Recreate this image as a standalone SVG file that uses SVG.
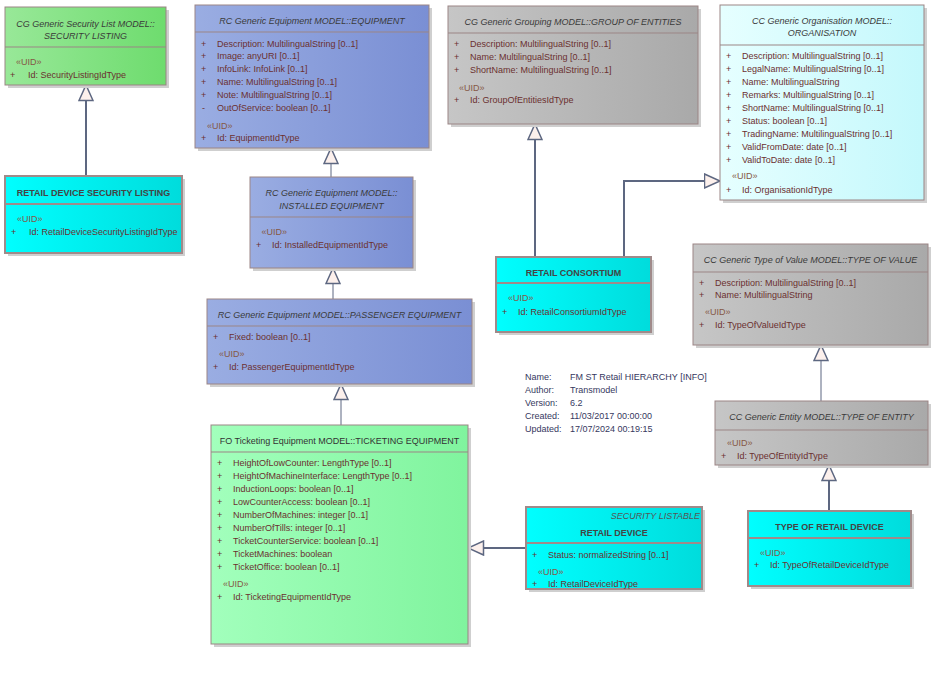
<svg xmlns="http://www.w3.org/2000/svg" width="939" height="673" viewBox="0 0 939 673">
<defs>
<linearGradient id="gGreen" x1="0" y1="0" x2="1" y2="0"><stop offset="0" stop-color="#98e898"/><stop offset="1" stop-color="#6edc6e"/></linearGradient>
<linearGradient id="gMint" x1="0" y1="0" x2="1" y2="0"><stop offset="0" stop-color="#a2ffbc"/><stop offset="1" stop-color="#80f49e"/></linearGradient>
<linearGradient id="gBlue" x1="0" y1="0" x2="1" y2="0"><stop offset="0" stop-color="#9aade2"/><stop offset="1" stop-color="#7a8fd4"/></linearGradient>
<linearGradient id="gGray" x1="0" y1="0" x2="1" y2="0"><stop offset="0" stop-color="#c6c6c6"/><stop offset="1" stop-color="#a9a9a9"/></linearGradient>
<linearGradient id="gLightCyan" x1="0" y1="0" x2="1" y2="0"><stop offset="0" stop-color="#e6ffff"/><stop offset="1" stop-color="#c4f8fc"/></linearGradient>
<linearGradient id="gCyan" x1="0" y1="0" x2="1" y2="0"><stop offset="0" stop-color="#00ffff"/><stop offset="1" stop-color="#00dcdc"/></linearGradient>
<marker id="tri" markerUnits="userSpaceOnUse" markerWidth="18" markerHeight="16" refX="15.5" refY="7" orient="auto" viewBox="-1 -1 18 16">
<path d="M0,0 L15.5,7 L0,14 Z" fill="#fcf0ec" stroke="#5d6781" stroke-width="1.5"/>
</marker>
</defs>
<style>
text{font-family:"Liberation Sans",Arial,sans-serif;font-size:9px}
.shadow{fill:#cfcfcf}
.box{stroke:#9b8585;stroke-width:1}
.thick{stroke:#a08a8a;stroke-width:2}
.sep{stroke:#9b8585;stroke-width:1}
.sepT{stroke:#a08a8a;stroke-width:2}
.hi{font-style:italic;fill:#3a3a3a;text-anchor:middle}
.hb{font-weight:bold;fill:#444;text-anchor:middle}
.hn{fill:#333;text-anchor:middle}
.at{fill:#6b3030}
.uid{fill:#855846}
.info{fill:#36385e}
.c{fill:none;stroke:#5d6781;marker-end:url(#tri)}
.c1{stroke-width:1}
.c2{stroke-width:2}
</style>

<g id="connectors">
<path class="c c2" d="M86,176 L86,85"/>
<path class="c c1" d="M331,177 L331,148"/>
<path class="c c1" d="M333,299 L333,268"/>
<path class="c c1" d="M341,425 L341,384"/>
<path class="c c2" d="M535,257 L535,124"/>
<path class="c c2" d="M624,257 L624,181 L720,181"/>
<path class="c c1" d="M821,401 L821,345"/>
<path class="c c2" d="M829,511 L829,465"/>
<path class="c c2" d="M526,548 L468,548"/>
</g>

<g id="securityListing">
<rect class="shadow" x="8" y="10" width="161" height="78"/>
<rect class="box" x="5" y="7" width="161" height="78" fill="url(#gGreen)"/>
<line class="sep" x1="5" y1="47" x2="166" y2="47"/>
<text class="hi" x="85.5" y="26.5">CG Generic Security List MODEL::</text>
<text class="hi" x="85.5" y="39">SECURITY LISTING</text>
<text class="uid" x="16" y="64.7">«UID»</text>
<text class="at" x="10" y="77.7">+</text>
<text class="at" x="28" y="77.7">Id: SecurityListingIdType</text>
</g>

<g id="retailDeviceSecurityListing">
<rect class="shadow" x="8" y="179" width="177" height="77"/>
<rect class="thick" x="5" y="176" width="177" height="77" fill="url(#gCyan)"/>
<line class="sepT" x1="5" y1="204" x2="182" y2="204"/>
<text class="hb" x="93.5" y="195.7">RETAIL DEVICE SECURITY LISTING</text>
<text class="uid" x="17" y="222">«UID»</text>
<text class="at" x="11" y="234.7">+</text>
<text class="at" x="29" y="234.7">Id: RetailDeviceSecurityListingIdType</text>
</g>

<g id="equipment">
<rect class="shadow" x="198" y="8" width="234" height="143"/>
<rect class="box" x="195" y="5" width="234" height="143" fill="url(#gBlue)"/>
<line class="sep" x1="195" y1="32" x2="429" y2="32"/>
<text class="hi" x="312" y="23.7">RC Generic Equipment MODEL::EQUIPMENT</text>
<text class="at" x="201" y="46.5">+</text><text class="at" x="217" y="46.5">Description: MultilingualString [0..1]</text>
<text class="at" x="201" y="59.4">+</text><text class="at" x="217" y="59.4">Image: anyURI [0..1]</text>
<text class="at" x="201" y="72.3">+</text><text class="at" x="217" y="72.3">InfoLink: InfoLink [0..1]</text>
<text class="at" x="201" y="85.2">+</text><text class="at" x="217" y="85.2">Name: MultilingualString [0..1]</text>
<text class="at" x="201" y="98.1">+</text><text class="at" x="217" y="98.1">Note: MultilingualString [0..1]</text>
<text class="at" x="202" y="111">-</text><text class="at" x="217" y="111">OutOfService: boolean [0..1]</text>
<text class="uid" x="207" y="129">«UID»</text>
<text class="at" x="201" y="141">+</text><text class="at" x="217" y="141">Id: EquipmentIdType</text>
</g>

<g id="installedEquipment">
<rect class="shadow" x="253" y="180" width="163" height="91"/>
<rect class="box" x="250" y="177" width="163" height="91" fill="url(#gBlue)"/>
<line class="sep" x1="250" y1="217" x2="413" y2="217"/>
<text class="hi" x="331.5" y="196.3">RC Generic Equipment MODEL::</text>
<text class="hi" x="331.5" y="208.7">INSTALLED EQUIPMENT</text>
<text class="uid" x="261.5" y="234.7">«UID»</text>
<text class="at" x="256" y="248">+</text><text class="at" x="272" y="248">Id: InstalledEquipmentIdType</text>
</g>

<g id="passengerEquipment">
<rect class="shadow" x="210" y="302" width="265" height="85"/>
<rect class="box" x="207" y="299" width="265" height="85" fill="url(#gBlue)"/>
<line class="sep" x1="207" y1="326" x2="472" y2="326"/>
<text class="hi" x="339.5" y="318">RC Generic Equipment MODEL::PASSENGER EQUIPMENT</text>
<text class="at" x="213" y="339.7">+</text><text class="at" x="229" y="339.7">Fixed: boolean [0..1]</text>
<text class="uid" x="219" y="356.7">«UID»</text>
<text class="at" x="213" y="370">+</text><text class="at" x="229" y="370">Id: PassengerEquipmentIdType</text>
</g>

<g id="ticketingEquipment">
<rect class="shadow" x="214" y="428" width="257" height="219"/>
<rect class="box" x="211" y="425" width="257" height="219" fill="url(#gMint)"/>
<line class="sep" x1="211" y1="452" x2="468" y2="452"/>
<text class="hn" x="339.5" y="443.7">FO Ticketing Equipment MODEL::TICKETING EQUIPMENT</text>
<text class="at" x="217" y="466.3">+</text><text class="at" x="233" y="466.3">HeightOfLowCounter: LengthType [0..1]</text>
<text class="at" x="217" y="479.2">+</text><text class="at" x="233" y="479.2">HeightOfMachineInterface: LengthType [0..1]</text>
<text class="at" x="217" y="492.1">+</text><text class="at" x="233" y="492.1">InductionLoops: boolean [0..1]</text>
<text class="at" x="217" y="505">+</text><text class="at" x="233" y="505">LowCounterAccess: boolean [0..1]</text>
<text class="at" x="217" y="517.9">+</text><text class="at" x="233" y="517.9">NumberOfMachines: integer [0..1]</text>
<text class="at" x="217" y="530.8">+</text><text class="at" x="233" y="530.8">NumberOfTills: integer [0..1]</text>
<text class="at" x="217" y="543.7">+</text><text class="at" x="233" y="543.7">TicketCounterService: boolean [0..1]</text>
<text class="at" x="217" y="556.6">+</text><text class="at" x="233" y="556.6">TicketMachines: boolean</text>
<text class="at" x="217" y="569.5">+</text><text class="at" x="233" y="569.5">TicketOffice: boolean [0..1]</text>
<text class="uid" x="223" y="587">«UID»</text>
<text class="at" x="217" y="600">+</text><text class="at" x="233" y="600">Id: TicketingEquipmentIdType</text>
</g>

<g id="groupOfEntities">
<rect class="shadow" x="451" y="9" width="250" height="118"/>
<rect class="box" x="448" y="6" width="250" height="118" fill="url(#gGray)"/>
<line class="sep" x1="448" y1="33" x2="698" y2="33"/>
<text class="hi" x="573" y="25">CG Generic Grouping MODEL::GROUP OF ENTITIES</text>
<text class="at" x="454" y="46.7">+</text><text class="at" x="470" y="46.7">Description: MultilingualString [0..1]</text>
<text class="at" x="454" y="60">+</text><text class="at" x="470" y="60">Name: MultilingualString [0..1]</text>
<text class="at" x="454" y="73.3">+</text><text class="at" x="470" y="73.3">ShortName: MultilingualString [0..1]</text>
<text class="uid" x="459" y="90.7">«UID»</text>
<text class="at" x="454" y="102.7">+</text><text class="at" x="470" y="102.7">Id: GroupOfEntitiesIdType</text>
</g>

<g id="organisation">
<rect class="shadow" x="723" y="8" width="204" height="195"/>
<rect class="box" x="720" y="5" width="204" height="195" fill="url(#gLightCyan)"/>
<line class="sep" x1="720" y1="45" x2="924" y2="45"/>
<text class="hi" x="822" y="23.7">CC Generic Organisation MODEL::</text>
<text class="hi" x="822" y="36.3">ORGANISATION</text>
<text class="at" x="726" y="59">+</text><text class="at" x="742" y="59">Description: MultilingualString [0..1]</text>
<text class="at" x="726" y="72">+</text><text class="at" x="742" y="72">LegalName: MultilingualString [0..1]</text>
<text class="at" x="726" y="85">+</text><text class="at" x="742" y="85">Name: MultilingualString</text>
<text class="at" x="726" y="98">+</text><text class="at" x="742" y="98">Remarks: MultilingualString [0..1]</text>
<text class="at" x="726" y="111">+</text><text class="at" x="742" y="111">ShortName: MultilingualString [0..1]</text>
<text class="at" x="726" y="124">+</text><text class="at" x="742" y="124">Status: boolean [0..1]</text>
<text class="at" x="726" y="137">+</text><text class="at" x="742" y="137">TradingName: MultilingualString [0..1]</text>
<text class="at" x="726" y="150">+</text><text class="at" x="742" y="150">ValidFromDate: date [0..1]</text>
<text class="at" x="726" y="163">+</text><text class="at" x="742" y="163">ValidToDate: date [0..1]</text>
<text class="uid" x="732" y="179">«UID»</text>
<text class="at" x="726" y="193">+</text><text class="at" x="742" y="193">Id: OrganisationIdType</text>
</g>

<g id="retailConsortium">
<rect class="shadow" x="499" y="260" width="155" height="75"/>
<rect class="thick" x="496" y="257" width="155" height="75" fill="url(#gCyan)"/>
<line class="sepT" x1="496" y1="283" x2="651" y2="283"/>
<text class="hb" x="573.5" y="275.7">RETAIL CONSORTIUM</text>
<text class="uid" x="508" y="301.3">«UID»</text>
<text class="at" x="502" y="315">+</text><text class="at" x="518" y="315">Id: RetailConsortiumIdType</text>
</g>

<g id="typeOfValue">
<rect class="shadow" x="696" y="247" width="235" height="101"/>
<rect class="box" x="693" y="244" width="235" height="101" fill="url(#gGray)"/>
<line class="sep" x1="693" y1="272" x2="928" y2="272"/>
<text class="hi" x="810.5" y="263">CC Generic Type of Value MODEL::TYPE OF VALUE</text>
<text class="at" x="699" y="285.7">+</text><text class="at" x="715" y="285.7">Description: MultilingualString [0..1]</text>
<text class="at" x="699" y="298">+</text><text class="at" x="715" y="298">Name: MultilingualString</text>
<text class="uid" x="705" y="314.7">«UID»</text>
<text class="at" x="699" y="328">+</text><text class="at" x="715" y="328">Id: TypeOfValueIdType</text>
</g>

<g id="typeOfEntity">
<rect class="shadow" x="718" y="404" width="213" height="64"/>
<rect class="box" x="715" y="401" width="213" height="64" fill="url(#gGray)"/>
<line class="sep" x1="715" y1="430" x2="928" y2="430"/>
<text class="hi" x="821.5" y="419.7">CC Generic Entity MODEL::TYPE OF ENTITY</text>
<text class="uid" x="727" y="445.7">«UID»</text>
<text class="at" x="721" y="459">+</text><text class="at" x="737" y="459">Id: TypeOfEntityIdType</text>
</g>

<g id="typeOfRetailDevice">
<rect class="shadow" x="751" y="514" width="163" height="75"/>
<rect class="thick" x="748" y="511" width="163" height="75" fill="url(#gCyan)"/>
<line class="sepT" x1="748" y1="538" x2="911" y2="538"/>
<text class="hb" x="829.5" y="529.7">TYPE OF RETAIL DEVICE</text>
<text class="uid" x="760" y="555.7">«UID»</text>
<text class="at" x="754" y="568.3">+</text><text class="at" x="770" y="568.3">Id: TypeOfRetailDeviceIdType</text>
</g>

<g id="retailDevice">
<rect class="shadow" x="529" y="510" width="176" height="82"/>
<rect class="thick" x="526" y="507" width="176" height="82" fill="url(#gCyan)"/>
<line class="sepT" x1="526" y1="543" x2="702" y2="543"/>
<text x="700" y="519" style="font-style:italic;fill:#555;text-anchor:end">SECURITY LISTABLE</text>
<text class="hb" x="614" y="536.3">RETAIL DEVICE</text>
<text class="at" x="532" y="558">+</text><text class="at" x="548" y="558">Status: normalizedString [0..1]</text>
<text class="uid" x="538" y="575">«UID»</text>
<text class="at" x="532" y="587">+</text><text class="at" x="548" y="587">Id: RetailDeviceIdType</text>
</g>

<g id="info">
<text class="info" x="525" y="379.7">Name:</text><text class="info" x="570" y="379.7">FM ST Retail HIERARCHY [INFO]</text>
<text class="info" x="525" y="393">Author:</text><text class="info" x="570" y="393">Transmodel</text>
<text class="info" x="525" y="405.7">Version:</text><text class="info" x="570" y="405.7">6.2</text>
<text class="info" x="525" y="419">Created:</text><text class="info" x="570" y="419">11/03/2017 00:00:00</text>
<text class="info" x="525" y="431.7">Updated:</text><text class="info" x="570" y="431.7">17/07/2024 00:19:15</text>
</g>
</svg>
